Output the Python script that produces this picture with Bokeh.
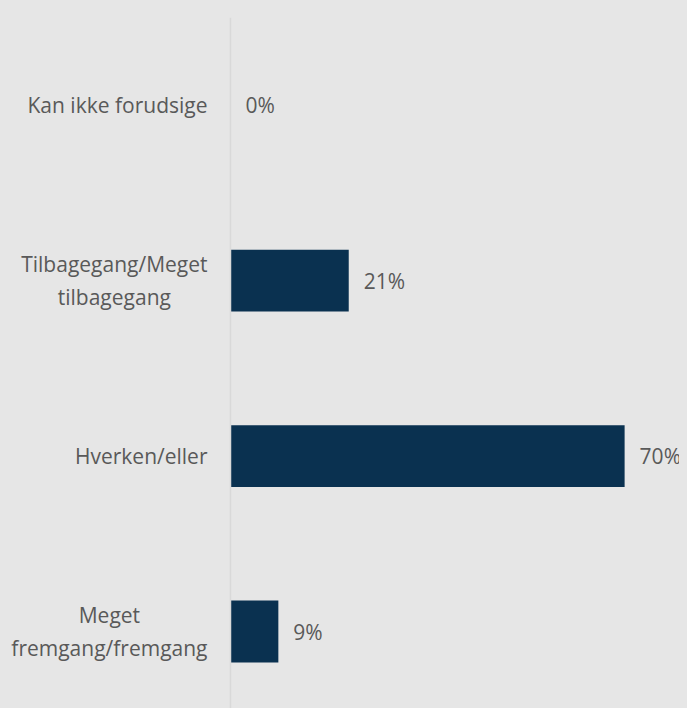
from bokeh.plotting import figure
from bokeh.models import Range1d, ColumnDataSource, Span
from bokeh.core.properties import value
from bokeh.embed import file_html
from bokeh.resources import INLINE

categories = ["Meget\nfremgang/fremgang", "Hverken/eller", "Tilbagegang/Meget\ntilbagegang", "Kan ikke forudsige"]
values = [8.5, 70, 21, 0]
value_labels = ["9%", "70%", "21%", "0%"]

BG = "#e6e6e6"
BAR = "#0a3150"
TXT = "#595959"
FONT = "Open Sans"

pos = list(range(len(categories)))
src = ColumnDataSource(dict(y=pos, v=values, lab=value_labels, cat=categories, zero=[0] * len(pos)))

p = figure(width=679, height=700, output_backend="svg", toolbar_location=None,
           x_range=Range1d(-39.43, 81.17), y_range=Range1d(-0.4387, 3.5),
           min_border_left=0, min_border_right=0, min_border_top=9, min_border_bottom=0)
p.background_fill_color = BG
p.border_fill_color = BG
p.outline_line_color = None
p.xgrid.visible = False
p.ygrid.visible = False
p.xaxis.visible = False
p.yaxis.visible = False

p.add_layout(Span(location=0, dimension="height", line_color="#d9d9d9", line_width=1.5))

p.hbar(y="y", right="v", left=0, height=0.353, source=src, fill_color=BAR, line_color=None)
p.text(x="v", y="y", text="lab", source=src, x_offset=15, text_baseline="middle",
       text_align="left", text_color=TXT, text_font=value(FONT), text_font_size="21px")
p.text(x="zero", y="y", text="cat", source=src, x_offset=-23, anchor="center_right",
       text_align="center", text_baseline="middle", text_color=TXT,
       text_font=value(FONT), text_font_size="21px", text_line_height=1.2)

html = file_html(p, INLINE)
html = html.replace("<body>", '<body style="margin:8px;background-color:#e6e6e6;">')
open("out.html", "w").write(html)
